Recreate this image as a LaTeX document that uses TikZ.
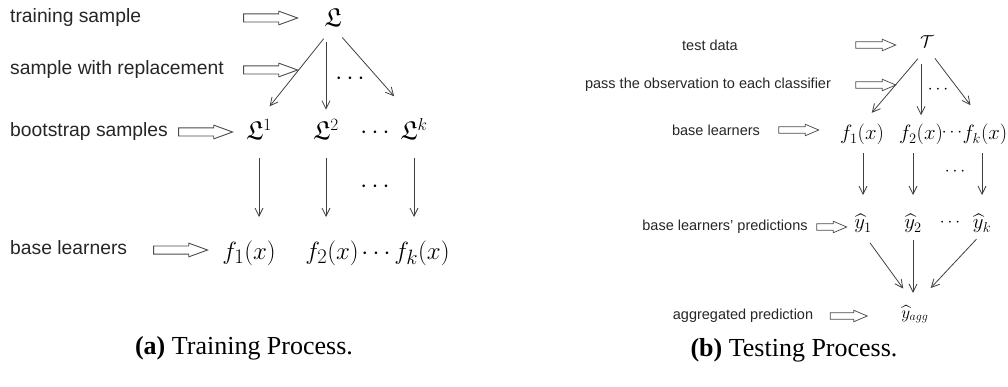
\documentclass[tikz,border=0pt]{standalone}
\usepackage{amssymb}
\usepackage{fontspec}
\setmainfont{Liberation Serif}
\setsansfont{Liberation Sans}
\usetikzlibrary{arrows.meta,shapes.arrows}
\tikzset{lbl/.style={font=\sffamily\fontsize{19.3}{22}\selectfont,text=black!85,inner sep=0pt},lbr/.style={font=\sffamily\fontsize{14.5}{17}\selectfont,text=black!85,inner sep=0pt},mth/.style={font=\fontsize{26}{30}\selectfont,inner sep=0pt,anchor=base},mthf/.style={mth,font=\fontsize{28}{32}\selectfont},mthr/.style={font=\fontsize{20}{24}\selectfont,inner sep=0pt,anchor=base},mthg/.style={mthr,font=\fontsize{20.5}{24}\selectfont},mthd/.style={mthr,font=\fontsize{17}{20}\selectfont},harrow/.style={single arrow,draw=black!70,line width=0.9pt,minimum height=54pt,inner xsep=0pt,inner ysep=3.6pt,single arrow head extend=2.8pt,single arrow tip angle=40},harrowr/.style={harrow,inner ysep=2.8pt,single arrow head extend=2.6pt,single arrow tip angle=46,line width=0.75pt},conn/.style={-{Straight Barb[length=8pt,width=8pt]},draw=black!75,line width=0.8pt},capt/.style={font=\fontsize{26}{30}\selectfont,inner sep=0pt}}

\begin{document}
\begin{tikzpicture}[x=1pt,y=-1pt]
\useasboundingbox (0,0) rectangle (1008,387);
% training process
\node[lbl,anchor=west] (train) at (10,18) {training sample};
\node[lbl,anchor=west] (repl) at (10,70) {sample with replacement};
\node[lbl,anchor=west] (boot) at (10,132) {bootstrap samples};
\node[lbl,anchor=west] (base) at (10,248) {base learners};
\node[harrow] (ha1) at (265,18) {};\node[harrow] (ha2) at (265,70) {};\node[harrow] (ha3) at (200,132) {};\node[harrow] (ha4) at (175,250) {};
\node[mth] (L) at (333,27) {$\mathfrak{L}$};
\node[mth] (L1) at (259,140) {$\mathfrak{L}^1$};\node[mth] (L2) at (326,140) {$\mathfrak{L}^2$};\node[mth] (Ld) at (375,139) {$\cdots$};\node[mth] (Lk) at (414,140) {$\mathfrak{L}^k$};
\node[mth] (Ldots) at (350,85) {$\cdots$};\node[mth] (fdots) at (375,193) {$\cdots$};
\node[mthf] (f1) at (249,259) {$f_1(x)$};\node[mthf] (f2) at (332,259) {$f_2(x)$};\node[mth] (fd) at (376,259) {$\cdots$};\node[mthf] (fk) at (422,259) {$f_k(x)$};
\draw[conn,shorten <=15pt,shorten >=17pt] (L.base) -- (L1.north);\draw[conn,shorten <=15pt,shorten >=10pt] (L.base -| L2.north) -- (L2.north);\draw[conn,shorten <=14pt,shorten >=30pt] (L.base) -- (Lk.north);
\draw[conn,shorten <=18pt,shorten >=42pt] (L1.base) -- (L1.base |- f1.base);\draw[conn,shorten <=18pt,shorten >=42pt] (L2.base) -- (L2.base |- f2.base);\draw[conn,shorten <=18pt,shorten >=42pt] (Lk.base) -- (Lk.base |- fk.base);
% testing process
\node[lbr] (test) at (710,45) {test data};
\node[lbr] (pass) at (708,85) {pass the observation to each classifier};
\node[lbr] (baser) at (716,130) {base learners};
\node[lbr] (pred) at (725,227) {base learners' predictions};
\node[lbr] (aggr) at (743,316) {aggregated prediction};
\node[harrowr,minimum height=40pt] (hb1) at (872,45) {};\node[harrowr,minimum height=40pt] (hb2) at (872,85) {};\node[harrowr,minimum height=40pt] (hb3) at (795,130) {};\node[harrowr,minimum height=30pt] (hb4) at (828,227) {};\node[harrowr,minimum height=37pt] (hb5) at (845,316) {};
\node[mthr,font=\fontsize{17}{20}\selectfont] (T) at (927,48) {$\mathcal{T}$};
\node[mthd] (Tdots) at (938,94) {$\cdots$};
\node[mthg] (g1) at (862,140) {$f_1(x)$};\node[mthg] (g2) at (921,140) {$f_2(x)$};\node[mthd] (gd) at (952,137) {$\cdots$};\node[mthg] (gk) at (985,140) {$f_k(x)$};
\node[mthd] (gdots) at (955,176) {$\cdots$};
\node[mthr] (y1) at (863,229) {$\widehat{y}_1$};\node[mthr] (y2) at (913,229) {$\widehat{y}_2$};\node[mthd] (yd) at (950,226) {$\cdots$};\node[mthr] (yk) at (982,229) {$\widehat{y}_k$};
\node[mthr,font=\fontsize{18}{22}\selectfont] (yagg) at (915,318) {$\widehat{y}_{agg}$};
\draw[conn,shorten <=14pt,shorten >=15pt] (T.base) -- (g1.north);\draw[conn,shorten <=16pt,shorten >=9pt] (g2.north |- T.base) -- (g2.north);\draw[conn,shorten <=13pt,shorten >=24pt] (T.base) -- (gk.north);
\draw[conn,shorten <=13pt,shorten >=34pt] (g1.base -| y1.base) -- (y1.base);\draw[conn,shorten <=13pt,shorten >=34pt] (g2.base -| y2.base) -- (y2.base);\draw[conn,shorten <=13pt,shorten >=34pt] (gk.base -| yk.base) -- (yk.base);
\draw[conn,shorten <=12pt,shorten >=20pt] (y1.south) -- (yagg.north);\draw[conn,shorten <=7pt,shorten >=12pt] (y2.south) -- (y2.south |- yagg.north);\draw[conn,shorten <=8pt,shorten >=23pt] (yk.south) -- (yagg.north);
% captions
\node[capt] (capa) at (244,348) {\textbf{(a)} Training Process.};
\node[capt] (capb) at (794,350) {\textbf{(b)} Testing Process.};
\end{tikzpicture}
\end{document}
